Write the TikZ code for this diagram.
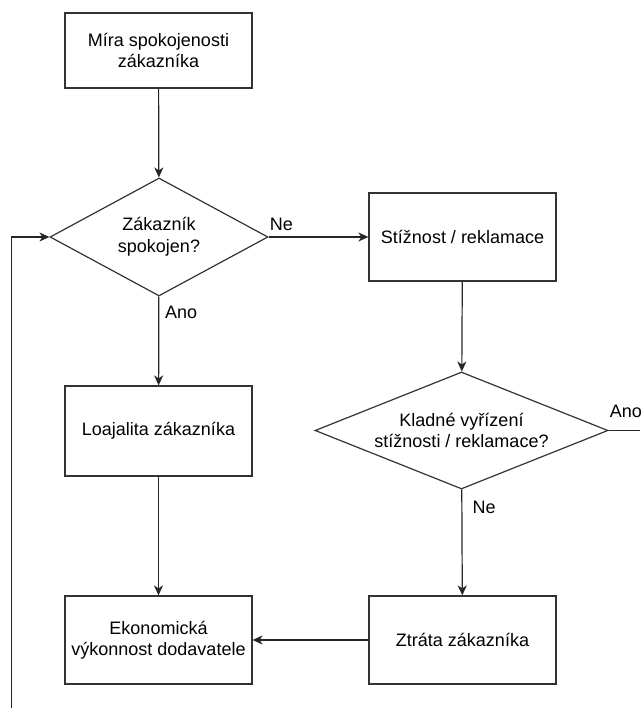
\documentclass[tikz,border=0pt]{standalone}
\usepackage{fontspec}
\setmainfont{Liberation Sans}
\usetikzlibrary{shapes.geometric}
\usetikzlibrary{arrows.meta}

\begin{document}
\begin{tikzpicture}[x=1pt, y=1pt,
    txt/.style={font=\fontsize{18}{21.5}\selectfont},
    box/.style={txt, draw=black!80, line width=1.2pt, minimum width=187pt, minimum height=88pt, align=center},
    decision/.style={txt, diamond, draw=black!80, line width=1.2pt, inner sep=0pt, align=center},
    line/.style={black!85, line width=1.2pt},
    arrow/.style={line, -{Stealth[length=10pt, width=9pt, inset=3pt]}},
    answer/.style={txt, inner sep=0pt}]
\useasboundingbox (0, 0) rectangle (640, 708);
\node[box, minimum height=75pt] (mira) at (158.5, 657.5) {Míra spokojenosti\\zákazníka};
\node[decision, aspect=1.85, minimum width=218pt, minimum height=118pt] (spokojen) at (159, 471) {Zákazník\\spokojen?};
\node[box] (stiznost) at (462.5, 471) {Stížnost / reklamace};
\node[decision, aspect=2.5, minimum width=293pt, minimum height=117pt] (vyrizeni) at (461.5, 277.5) {Kladné vyřízení\\stížnosti / reklamace?};
\node[box, minimum height=90pt] (loajalita) at (158.5, 277) {Loajalita zákazníka};
\node[box] (ekonomika) at (158.5, 68) {Ekonomická\\výkonnost dodavatele};
\node[box] (ztrata) at (462.5, 68) {Ztráta zákazníka};
\coordinate (zpet) at (11.5, 0);
\coordinate (dale) at (640, 277.5);
\draw[arrow] (mira) -- (spokojen);
\draw[arrow] (spokojen) -- (stiznost);
\draw[arrow] (spokojen) -- (loajalita);
\draw[arrow] (stiznost) -- (vyrizeni);
\draw[arrow] (vyrizeni) -- (ztrata);
\draw[arrow] (loajalita) -- (ekonomika);
\draw[arrow] (ztrata) -- (ekonomika);
\draw[arrow] (zpet) |- (spokojen.west);
\draw[line] (vyrizeni.east) -- (dale);
\node[answer, anchor=south west] (ne1) at ([shift={(1, 6)}]spokojen.east) {Ne};
\node[answer, anchor=north west] (ano1) at ([shift={(6, -9)}]spokojen.south) {Ano};
\node[answer, anchor=north west] (ne2) at ([shift={(11, -11)}]vyrizeni.south) {Ne};
\node[answer, anchor=south west] (ano2) at ([shift={(1, 13)}]vyrizeni.east) {Ano};
\end{tikzpicture}
\end{document}
